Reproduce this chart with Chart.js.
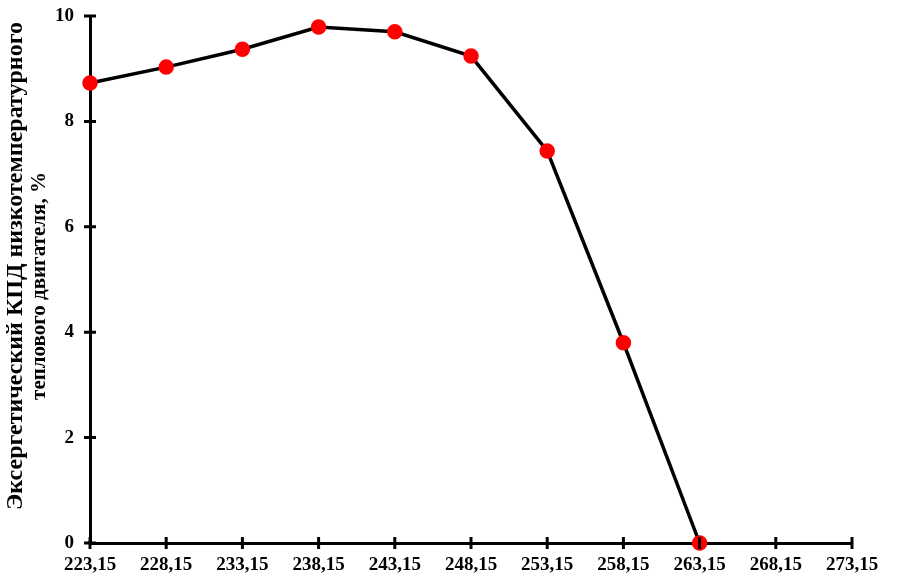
<!DOCTYPE html>
<html>
<head>
<meta charset="utf-8">
<script src="https://cdn.jsdelivr.net/npm/chart.js@4/dist/chart.umd.min.js"></script>
<style>
  html, body { margin: 0; padding: 0; background: #fff; }
  #wrap { width: 915px; height: 580px; position: relative; }
</style>
</head>
<body>
<div id="wrap"><canvas id="chart"></canvas></div>
<script>
// temperature, K
const temps = [223.15, 228.15, 233.15, 238.15, 243.15, 248.15, 253.15, 258.15, 263.15];
// exergy efficiency, %
const effValues = [8.73, 9.03, 9.37, 9.79, 9.70, 9.24, 7.44, 3.80, 0];
const xTicks = [223.15, 228.15, 233.15, 238.15, 243.15, 248.15, 253.15, 258.15, 263.15, 268.15, 273.15];
const yTicks = [0, 2, 4, 6, 8, 10];
const yTitle = ['Эксергетический КПД низкотемпературного', 'теплового двигателя, %'];

const serif = '"Liberation Serif", "Times New Roman", serif';
const font = { family: serif, weight: 'bold', size: 19 };

// ticks crossing the axis lines, like the original
const crossTicks = {
  id: 'crossTicks',
  afterDraw(chart) {
    const { ctx, scales: { x, y } } = chart;
    ctx.save();
    ctx.strokeStyle = '#000';
    ctx.lineWidth = 3;
    ctx.beginPath();
    xTicks.forEach(v => {
      const px = x.getPixelForValue(v);
      ctx.moveTo(px, y.bottom - 6);
      ctx.lineTo(px, y.bottom + 6);
    });
    yTicks.forEach(v => {
      const py = y.getPixelForValue(v);
      ctx.moveTo(x.left - 6, py);
      ctx.lineTo(x.left + 6, py);
    });
    ctx.stroke();
    ctx.restore();
  }
};

// two-line rotated axis title, first line a bit larger than the second
const yTitlePlugin = {
  id: 'yTitle',
  afterDraw(chart) {
    const { ctx } = chart;
    ctx.save();
    ctx.fillStyle = '#000';
    ctx.textAlign = 'center';
    ctx.textBaseline = 'middle';
    [[yTitle[0], 24, 16, 266], [yTitle[1], 21, 40, 286]].forEach(([txt, size, cx, cy]) => {
      ctx.save();
      ctx.translate(cx, cy);
      ctx.rotate(-Math.PI / 2);
      ctx.font = `bold ${size}px ${serif}`;
      ctx.fillText(txt, 0, 0);
      ctx.restore();
    });
    ctx.restore();
  }
};

new Chart(document.getElementById('chart').getContext('2d'), {
  type: 'line',
  data: {
    datasets: [{
      data: temps.map((t, i) => ({ x: t, y: effValues[i] })),
      borderColor: '#000',
      borderWidth: 3.5,
      pointBackgroundColor: '#ff0000',
      pointBorderColor: '#ff0000',
      pointRadius: 6,
      tension: 0,
      clip: false,
    }],
  },
  options: {
    responsive: true, maintainAspectRatio: false, animation: false,
    layout: { autoPadding: false, padding: { top: 16, right: 63, left: 0, bottom: 0 } },
    plugins: { legend: { display: false }, tooltip: { enabled: false } },
    scales: {
      x: {
        type: 'linear', min: 223.15, max: 273.15,
        afterBuildTicks: s => { s.ticks = xTicks.map(v => ({ value: v })); },
        afterFit: s => { s.height = 37; },
        grid: { display: false, drawTicks: false },
        border: { color: '#000', width: 3 },
        ticks: { color: '#000', font, padding: 11, maxRotation: 0, autoSkip: false,
          callback: v => v.toFixed(2).replace('.', ',') },
      },
      y: {
        min: 0, max: 10,
        afterBuildTicks: s => { s.ticks = yTicks.map(v => ({ value: v })); },
        afterFit: s => { s.width = 90; s.paddingTop = 0; s.paddingBottom = 0; },
        grid: { display: false, drawTicks: false },
        border: { color: '#000', width: 3 },
        ticks: { color: '#000', font, padding: 16 },
      },
    },
  },
  plugins: [crossTicks, yTitlePlugin],
});
</script>
</body>
</html>
